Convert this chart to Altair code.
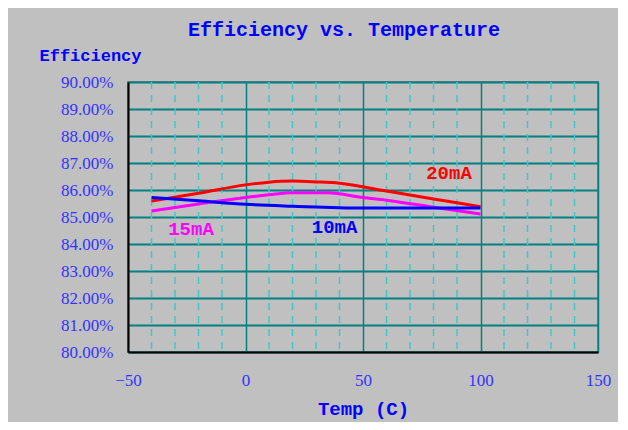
import altair as alt
import pandas as pd

# Series data (Efficiency % vs Temperature C)
red_t = [-40, -20, 0, 10, 20, 30, 40, 60, 80, 100]
red_v = [85.59, 85.88, 86.19, 86.29, 86.33, 86.30, 86.25, 85.96, 85.67, 85.38]

mag_t = [-40, -20, 0, 10, 20, 35, 50, 60, 80, 100]
mag_v = [85.22, 85.48, 85.72, 85.82, 85.90, 85.90, 85.72, 85.62, 85.36, 85.11]

blue_t = [-40, -20, 0, 20, 50, 100]
blue_v = [85.72, 85.60, 85.47, 85.40, 85.33, 85.33]

x_ticks = [-50, 0, 50, 100, 150]
x_minor = [-40, -30, -20, -10, 10, 20, 30, 40, 60, 70, 80, 90, 110, 120, 130, 140]
y_ticks = [80, 81, 82, 83, 84, 85, 86, 87, 88, 89, 90]

label_text = ["20mA", "15mA", "10mA"]
label_t = [86.6, -23.2, 37.9]
label_v = [86.63, 84.56, 84.63]
label_color = ["#FF0000", "#FF00FF", "#0000FF"]

rows = []
for t, v in zip(red_t, red_v):
    rows.append({"temp": t, "eff": v, "series": "20mA"})
for t, v in zip(mag_t, mag_v):
    rows.append({"temp": t, "eff": v, "series": "15mA"})
for t, v in zip(blue_t, blue_v):
    rows.append({"temp": t, "eff": v, "series": "10mA"})
df = pd.DataFrame(rows)

minor_df = pd.DataFrame({"temp": x_minor})
lab_df = pd.DataFrame({"text": label_text, "temp": label_t, "eff": label_v, "c": label_color})

xscale = alt.Scale(domain=[-50, 150], nice=False, zero=False)
yscale = alt.Scale(domain=[80, 90], nice=False, zero=False)

xaxis = alt.Axis(
    values=x_ticks, grid=True, gridColor="#008080", gridWidth=1.5,
    domainColor="#000000", domainWidth=2, ticks=False, labelOverlap=False,
    labelFlush=False,
    labelFont="Liberation Serif", labelFontSize=17, labelColor="#3333FF",
    labelPadding=20, title="Temp (C)", titleFont="Liberation Mono",
    titleFontSize=19, titleFontWeight="bold", titleColor="#0000FF",
    titleX=235, titleY=62, titleBaseline="alphabetic",
)
yaxis = alt.Axis(
    values=y_ticks, grid=True, gridColor="#008080", gridWidth=2,
    domainColor="#000000", domainWidth=2, ticks=False, labelOverlap=False,
    labelFlush=False,
    labelFont="Liberation Serif", labelFontSize=17, labelColor="#3333FF",
    labelPadding=15, labelExpr="format(datum.value, '.2f') + '%'",
    title="Efficiency", titleFont="Liberation Mono", titleFontSize=17,
    titleFontWeight="bold", titleColor="#0000FF", titleAngle=0,
    titleX=-89, titleY=-22, titleAlign="left", titleBaseline="alphabetic",
)

X = alt.X("temp:Q", scale=xscale, axis=xaxis)
Y = alt.Y("eff:Q", scale=yscale, axis=yaxis)

minor = alt.Chart(minor_df).mark_rule(
    color="#40C8C8", strokeWidth=1.5, strokeDash=[7, 6]
).encode(x=X)

lines = alt.Chart(df).mark_line(strokeWidth=3, interpolate="monotone").encode(
    x=X,
    y=Y,
    color=alt.Color("series:N",
                    scale=alt.Scale(domain=["20mA", "15mA", "10mA"],
                                    range=["#FF0000", "#FF00FF", "#0000FF"]),
                    legend=None),
    order=alt.Order("temp:Q"),
)

labels = alt.Chart(lab_df).mark_text(
    font="Liberation Mono", fontSize=19, fontWeight="bold", baseline="middle"
).encode(
    x=X,
    y=Y,
    text="text:N",
    color=alt.Color("c:N", scale=None),
)

chart = alt.layer(minor, lines, labels).properties(
    width=470, height=270,
    title=alt.TitleParams(
        "Efficiency vs. Temperature", font="Liberation Mono", fontSize=20,
        fontWeight="bold", color="#0000FF", frame="group", offset=6,
        baseline="alphabetic", dx=-19, dy=16,
    ),
    autosize=alt.AutoSizeParams(type="none"),
    padding={"left": 120, "top": 74, "right": 20, "bottom": 70},
    background="#C0C0C0",
).configure_view(stroke="#808080", strokeWidth=2)

chart.save("out.html", embed_options={"renderer": "svg", "actions": False})
